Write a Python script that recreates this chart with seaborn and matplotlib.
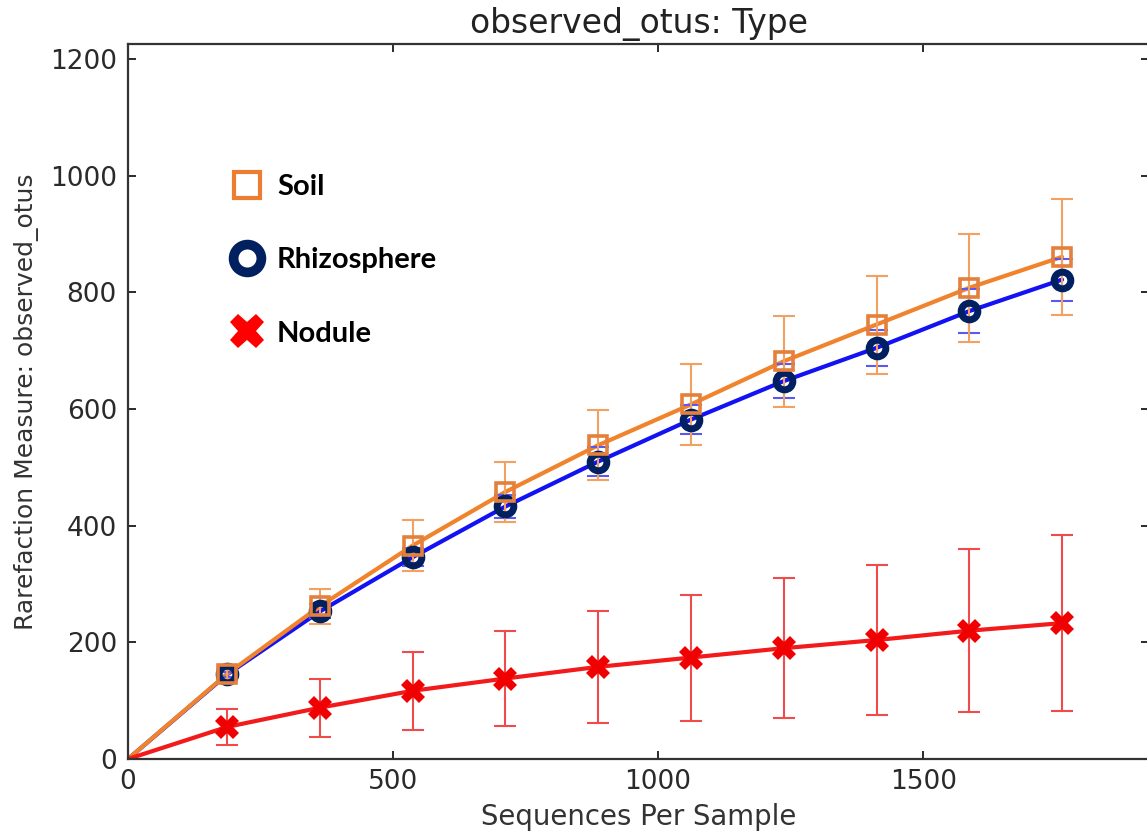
import numpy as np
import pandas as pd
import matplotlib
matplotlib.use("Agg")
import matplotlib.pyplot as plt
import seaborn as sns
from matplotlib.lines import Line2D

# ---- data ----
seqs_per_sample = [0, 187, 362, 537, 712, 887, 1062, 1237, 1412, 1587, 1762]
soil_mean = [0, 146, 262, 366, 458, 538, 608, 682, 745, 808, 861]
soil_err = [0, 8, 30, 43, 51, 60, 69, 78, 84, 93, 99]
rhizo_mean = [0, 145, 253, 346, 433, 510, 582, 648, 705, 768, 822]
rhizo_err = [0, 5, 12, 15, 20, 25, 25, 29, 31, 38, 36]
nodule_mean = [0, 55, 88, 117, 138, 158, 174, 190, 204, 220, 233]
nodule_err = [0, 31, 50, 67, 82, 96, 108, 120, 129, 140, 151]

types = ["Rhizosphere", "Soil", "Nodule"]
legend_order = ["Soil", "Rhizosphere", "Nodule"]
x_ticks = [0, 500, 1000, 1500]
y_ticks = [0, 200, 400, 600, 800, 1000, 1200]

means = {"Soil": soil_mean, "Rhizosphere": rhizo_mean, "Nodule": nodule_mean}
errs = {"Soil": soil_err, "Rhizosphere": rhizo_err, "Nodule": nodule_err}

df = pd.concat(
    [pd.DataFrame({"Type": t, "seqs": seqs_per_sample, "mean": means[t], "err": errs[t]})
     for t in types],
    ignore_index=True,
)

# ---- styles ----
line_col = {"Soil": "#F0832C", "Rhizosphere": "#1212F2", "Nodule": "#F21A1A"}
err_col = {"Soil": "#F2A160", "Rhizosphere": "#5A5AF2", "Nodule": "#F04A4A"}
mk = {
    "Soil": dict(marker="s", markersize=13, markeredgewidth=2.6,
                 markeredgecolor="#E5803C", markerfacecolor="none"),
    "Rhizosphere": dict(marker="o", markersize=12, markeredgewidth=5,
                        markeredgecolor="#00205F", markerfacecolor="none"),
    "Nodule": dict(marker="X", markersize=17, markeredgewidth=0,
                   markeredgecolor="#F00000", markerfacecolor="#F00000"),
}

sns.set_style("ticks")
plt.rcParams["font.family"] = ["DejaVu Sans"]

W, H = 1147, 833
fig = plt.figure(figsize=(W / 100, H / 100), dpi=100)
left, right, bottom, top = 128, 1149, 759, 44
ax = fig.add_axes([left / W, 1 - bottom / H, (right - left) / W, (bottom - top) / H])

sns.lineplot(data=df, x="seqs", y="mean", hue="Type", hue_order=types,
             palette=line_col, linewidth=3, legend=False, ax=ax,
             sort=False, errorbar=None)

for t in types:
    sub = df[(df["Type"] == t) & (df["seqs"] > 0)]
    ax.errorbar(sub["seqs"], sub["mean"], yerr=sub["err"], fmt="none",
                ecolor=err_col[t], elinewidth=1.5, capsize=8, capthick=1.5,
                zorder=3)
for t in types:
    sub = df[(df["Type"] == t) & (df["seqs"] > 0)]
    ax.plot(sub["seqs"], sub["mean"], linestyle="none", zorder=4, **mk[t])

ax.set_xlim(0, 1926)
ax.set_ylim(0, 1226)
ax.set_xticks(x_ticks)
ax.set_yticks(y_ticks)
ax.tick_params(direction="in", length=6, width=1.4, top=True, right=True,
               labelsize=19, colors="#2a2a2a")
ax.tick_params(axis="x", pad=7)
ax.tick_params(axis="y", pad=8)
for s in ax.spines.values():
    s.set_linewidth(1.6)
    s.set_color("#333333")

ax.set_title("observed_otus: Type", fontsize=23.8, color="#222222", pad=8)
ax.set_xlabel("Sequences Per Sample", fontsize=19.8, color="#333333", labelpad=6)
ax.set_ylabel("Rarefaction Measure: observed_otus", fontsize=18,
              color="#333333", labelpad=8)

# ---- legend ----
leg_mk = {
    "Soil": dict(marker="s", markersize=19, markeredgewidth=3,
                 markeredgecolor="#ED7D31", markerfacecolor="white"),
    "Rhizosphere": dict(marker="o", markersize=20, markeredgewidth=7,
                        markeredgecolor="#002060", markerfacecolor="white"),
    "Nodule": dict(marker="X", markersize=25, markeredgewidth=0,
                   markerfacecolor="#FF0000", markeredgecolor="#FF0000"),
}
handles = [Line2D([], [], linestyle="none", **leg_mk[t]) for t in legend_order]
leg = ax.legend(handles, legend_order, loc="upper left",
                bbox_to_anchor=(228 / W, 1 - 174 / H), bbox_transform=fig.transFigure,
                frameon=False, borderpad=0, borderaxespad=0, handlelength=1.3,
                handletextpad=0.38, labelspacing=1.62, labelcolor="black",
                prop={"family": "Lato", "weight": "bold", "size": 21})

fig.savefig("out.png", dpi=100)
